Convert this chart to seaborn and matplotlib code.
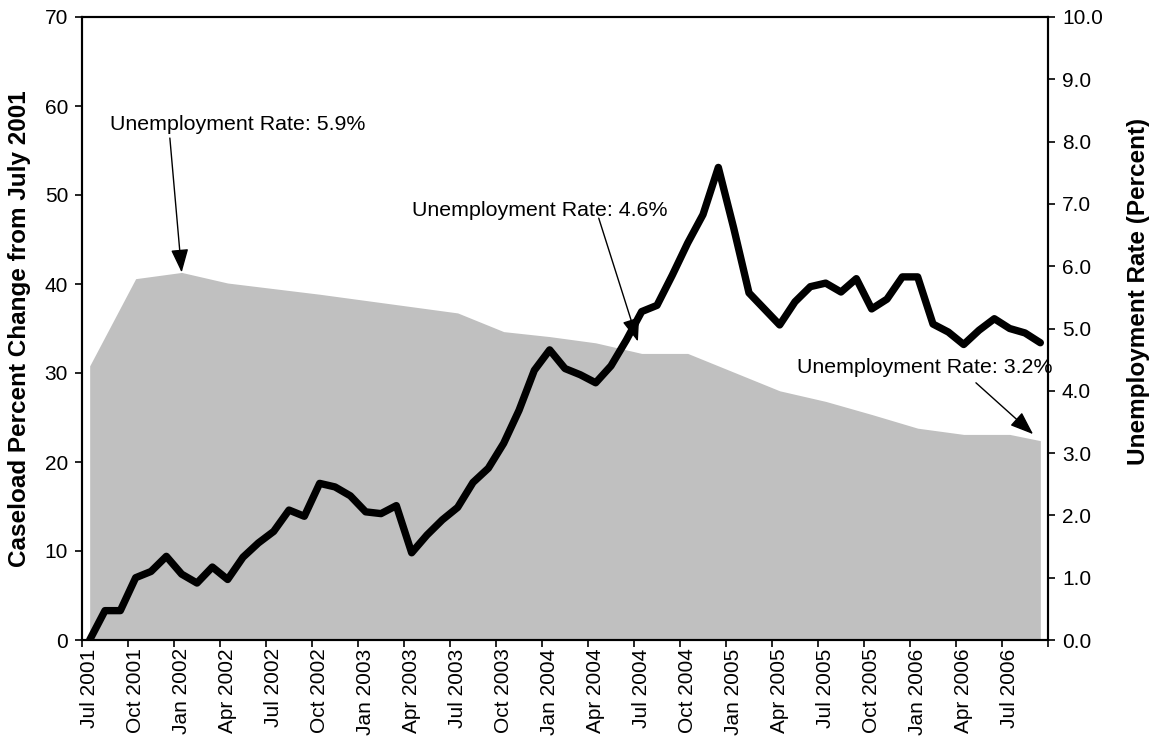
import numpy as np
import pandas as pd
import matplotlib
matplotlib.use("Agg")
import matplotlib.pyplot as plt
import seaborn as sns

# Monthly caseload percent change from July 2001 (Jul 2001 - Sep 2006)
months = pd.date_range("2001-07-01", periods=63, freq="MS").strftime("%b %Y").tolist()
caseload_change = [
    0.0, 3.3, 3.3, 7.0, 7.7, 9.4, 7.4, 6.4, 8.2, 6.8,
    9.3, 10.9, 12.2, 14.6, 13.9, 17.6, 17.2, 16.2, 14.4, 14.2,
    15.1, 9.8, 11.8, 13.5, 14.9, 17.7, 19.3, 22.1, 25.8, 30.3,
    32.6, 30.5, 29.8, 28.9, 30.8, 33.7, 36.9, 37.6, 41.0, 44.6,
    47.8, 53.1, 46.3, 39.0, 37.2, 35.4, 38.0, 39.7, 40.1, 39.1,
    40.6, 37.2, 38.3, 40.8, 40.8, 35.5, 34.6, 33.2, 34.8, 36.1,
    35.0, 34.5, 33.4,
]

# Quarterly unemployment rate (percent)
unemp_months = [
    "Jul 2001", "Oct 2001", "Jan 2002", "Apr 2002", "Jul 2002", "Oct 2002",
    "Jan 2003", "Apr 2003", "Jul 2003", "Oct 2003", "Jan 2004", "Apr 2004",
    "Jul 2004", "Oct 2004", "Jan 2005", "Apr 2005", "Jul 2005", "Oct 2005",
    "Jan 2006", "Apr 2006", "Jul 2006", "Sep 2006",
]
unemp_rate = [
    4.4, 5.8, 5.9, 5.73, 5.64, 5.55,
    5.45, 5.35, 5.25, 4.95, 4.87, 4.77,
    4.6, 4.6, 4.3, 4.0, 3.83, 3.62,
    3.4, 3.3, 3.3, 3.2,
]

tick_labels = [
    "Jul 2001", "Oct 2001", "Jan 2002", "Apr 2002", "Jul 2002", "Oct 2002",
    "Jan 2003", "Apr 2003", "Jul 2003", "Oct 2003", "Jan 2004", "Apr 2004",
    "Jul 2004", "Oct 2004", "Jan 2005", "Apr 2005", "Jul 2005", "Oct 2005",
    "Jan 2006", "Apr 2006", "Jul 2006",
]

# Annotations: (label, month pointed at, rate)
callouts = [
    ("Unemployment Rate: 5.9%", "Jan 2002", 5.9),
    ("Unemployment Rate: 4.6%", "Jul 2004", 4.6),
    ("Unemployment Rate: 3.2%", "Sep 2006", 3.2),
]

sns.set_theme(style="white")
plt.rcParams["font.family"] = ["Liberation Sans", "DejaVu Sans"]

pos = {m: i for i, m in enumerate(months)}
df = pd.DataFrame({"idx": np.arange(len(months)), "change": caseload_change})
u_idx = [pos[m] for m in unemp_months]

fig = plt.figure(figsize=(11.54, 7.43), dpi=100)
ax = fig.add_axes([82 / 1154, 1 - 640 / 743, 966 / 1154, 623 / 743])
ax2 = ax.twinx()

# grey area for unemployment rate (right axis)
ax2.fill_between(u_idx, unemp_rate, 0, color="#C0C0C0", linewidth=0)
ax2.set_ylim(0, 10)

# caseload line on top
ax.set_zorder(ax2.get_zorder() + 1)
ax.patch.set_visible(False)
sns.lineplot(data=df, x="idx", y="change", ax=ax, color="black", linewidth=5.3,
             legend=False)
ax.set_ylim(0, 70)
ax.set_xlim(-0.5, len(months) - 0.5)

fs = 15
# left axis
ax.set_yticks(np.arange(0, 71, 10))
ax.set_yticklabels([str(v) for v in range(0, 71, 10)])
ax.tick_params(axis="y", direction="out", length=5, width=1.2, labelsize=fs,
               left=True, pad=5, colors="black")
ax.set_ylabel("Caseload Percent Change from July 2001", fontsize=17.5,
              fontweight="bold", color="black")
ax.yaxis.set_label_coords(-0.053, 0.5)

# x axis: ticks between quarters, labels on quarter months
ax.set_xticks(np.arange(-0.5, len(months), 3))
ax.set_xticklabels([])
ax.set_xticks([pos[t] for t in tick_labels], minor=True)
ax.set_xticklabels(tick_labels, minor=True, rotation=90, fontsize=fs, color="black")
ax.tick_params(axis="x", which="major", direction="out", length=5, width=1.2,
               bottom=True, colors="black")
ax.tick_params(axis="x", which="minor", length=0, pad=6)
ax.set_xlabel("")

# right axis
ax2.set_yticks(np.arange(0, 10.01, 1.0))
ax2.set_yticklabels([f"{v:.1f}" for v in np.arange(0, 10.01, 1.0)])
ax2.tick_params(axis="y", direction="out", length=5, width=1.2, labelsize=fs,
                right=True, pad=5, colors="black")
ax2.set_ylabel("Unemployment Rate (Percent)", fontsize=17.5, fontweight="bold",
               rotation=90, color="black")
ax2.yaxis.set_label_coords(1.082, 0.56)

for a in (ax, ax2):
    for s in a.spines.values():
        s.set_color("black")
        s.set_linewidth(1.5)
        s.set_visible(True)

# callout text and arrows (text/arrow start in left-axis units)
text_pos = [(1.3, 57.9), (21.05, 48.3), (46.1, 30.6)]
arrow_start = [(5.23, 56.4), (33.2, 47.4), (57.8, 28.9)]
arrow_shrink = [0, 9, 7]
for (label, month, rate), (tx, ty), (sx, sy), shr in zip(callouts, text_pos,
                                                         arrow_start, arrow_shrink):
    ax.text(tx, ty, label, fontsize=15.4, ha="left", va="center", color="black",
            zorder=5)
    ax.annotate("", xy=(pos[month], rate), xycoords=ax2.transData,
                xytext=(sx, sy), textcoords=ax.transData,
                arrowprops=dict(arrowstyle="-|>,head_length=0.8,head_width=0.3",
                                mutation_scale=18, color="black", lw=1.0,
                                shrinkA=0, shrinkB=shr),
                zorder=5)

fig.savefig("out.png", dpi=100)
